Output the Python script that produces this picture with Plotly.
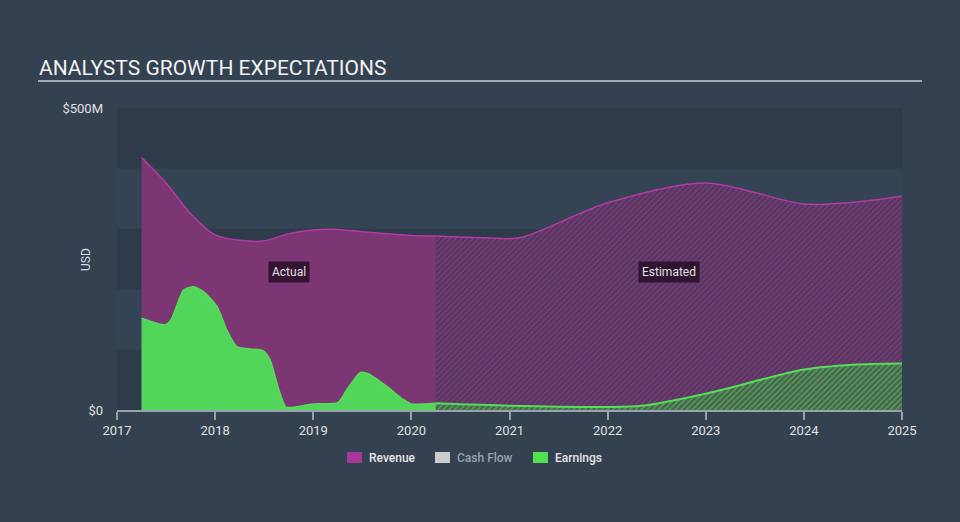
import plotly.graph_objects as go

# ---- data (USD millions, x in fractional years) ----
rev_act_x = [2017.25, 2017.5, 2017.75, 2018.0, 2018.25, 2018.5, 2018.75, 2019.0, 2019.25, 2019.5, 2019.75, 2020.0, 2020.25]
rev_act_y = [418, 376, 325, 290, 281, 280, 292, 298, 299, 295, 292, 289, 288]
rev_est_x = [2020.25, 2020.75, 2021.1, 2022.0, 2023.0, 2024.0, 2024.5, 2025.0]
rev_est_y = [288, 285, 285, 343, 376, 341, 344, 354]

earn_act_x = [2017.25, 2017.49, 2017.55, 2017.68, 2017.78, 2017.88, 2018.02, 2018.12, 2018.22, 2018.36, 2018.49,
              2018.56, 2018.65, 2018.72, 2018.78, 2019.0, 2019.25, 2019.34, 2019.48, 2019.56, 2019.75, 2019.92, 2020.0, 2020.25]
earn_act_y = [152, 141, 149, 199, 204, 196, 171, 132, 105, 101, 98,
              83, 33, 5, 4, 10, 12, 33, 62, 60, 39, 17, 10, 11]
earn_est_x = [2020.25, 2021.0, 2022.0, 2022.35, 2023.0, 2024.0, 2024.5, 2025.0]
earn_est_y = [11, 7, 5, 7, 27, 67, 75, 77]

year_ticks = [2017, 2018, 2019, 2020, 2021, 2022, 2023, 2024, 2025]
y_ticks = [0, 500]
y_tick_text = ["$0", "$500M"]

legend_names = ["Revenue", "Cash Flow", "Earnings"]
legend_colors = ["#a8379c", "#cccccc", "#52e052"]
legend_text_colors = ["#e6e6e6", "#9aa3ad", "#e6e6e6"]

# ---- geometry helpers (pixel -> paper) ----
L, R, T, B = 117, 902, 108, 410
def px(p):
    return (p - L) / (R - L)
def py(p):
    return (B - p) / (B - T)

REV_LINE = "#b43aa5"
REV_FILL = "#7b3673"
EARN_LINE = "#55dd58"
EARN_FILL = "#52d65a"

fig = go.Figure()

fig.add_trace(go.Scatter(
    x=rev_act_x, y=rev_act_y, mode="lines", fill="tozeroy",
    line=dict(color=REV_LINE, width=1.5, shape="spline", smoothing=0.8),
    fillcolor=REV_FILL, hoverinfo="skip", showlegend=False))

fig.add_trace(go.Scatter(
    x=rev_est_x, y=rev_est_y, mode="lines", fill="tozeroy",
    line=dict(color=REV_LINE, width=1.5, shape="spline", smoothing=0.8),
    fillcolor="rgba(0,0,0,0)",
    fillpattern=dict(shape="/", fgcolor="#96408c", bgcolor="#51365c", size=4, solidity=0.5),
    hoverinfo="skip", showlegend=False))

fig.add_trace(go.Scatter(
    x=earn_act_x, y=earn_act_y, mode="lines", fill="tozeroy",
    line=dict(color=EARN_LINE, width=1.5, shape="spline", smoothing=0.6),
    fillcolor=EARN_FILL, hoverinfo="skip", showlegend=False))

fig.add_trace(go.Scatter(
    x=earn_est_x, y=earn_est_y, mode="lines", fill="tozeroy",
    line=dict(color=EARN_LINE, width=2, shape="spline", smoothing=0.8),
    fillcolor="rgba(0,0,0,0)",
    fillpattern=dict(shape="/", fgcolor="#62cc62", bgcolor="#45604d", size=4, solidity=0.5),
    hoverinfo="skip", showlegend=False))

shapes = []
# horizontal bands
for y0 in (0, 200, 400):
    shapes.append(dict(type="rect", xref="paper", yref="y", x0=0, x1=1, y0=y0, y1=y0 + 100,
                       fillcolor="#2e3b4a", line=dict(width=0), layer="below"))
# title underline
shapes.append(dict(type="line", xref="paper", yref="paper", x0=px(38), x1=px(922), y0=py(81), y1=py(81),
                   line=dict(color="#a3abb5", width=2)))

annotations = [
    dict(text="ANALYSTS GROWTH EXPECTATIONS", xref="paper", yref="paper", x=px(37), y=py(68),
         xanchor="left", yanchor="middle", showarrow=False,
         font=dict(family="Roboto", size=21, color="#f2f2f2")),
    dict(text="USD", xref="paper", yref="paper", x=px(86), y=py(260), textangle=-90,
         xanchor="center", yanchor="middle", showarrow=False,
         font=dict(family="Roboto", size=12, color="#d8dce0")),
    dict(text="Actual", x=2018.75, y=228, xref="x", yref="y", showarrow=False,
         bgcolor="rgba(35,12,35,0.8)", borderpad=3,
         font=dict(family="Roboto", size=12, color="#e0e0e0")),
    dict(text="Estimated", x=2022.63, y=228, xref="x", yref="y", showarrow=False,
         bgcolor="rgba(35,12,35,0.8)", borderpad=3,
         font=dict(family="Roboto", size=12, color="#e0e0e0")),
]

# manual legend
sq_x = [347, 435, 533]
for name, col, tcol, sx in zip(legend_names, legend_colors, legend_text_colors, sq_x):
    shapes.append(dict(type="rect", xref="paper", yref="paper", x0=px(sx), x1=px(sx + 15),
                       y0=py(463), y1=py(452), fillcolor=col, line=dict(width=0)))
    annotations.append(dict(text=name, xref="paper", yref="paper", x=px(sx + 20), y=py(458),
                            xanchor="left", yanchor="middle", showarrow=False,
                            font=dict(family="Roboto", size=12, color=tcol, weight=500)))

fig.update_layout(
    width=960, height=522,
    margin=dict(l=L, r=960 - R, t=T, b=522 - B),
    paper_bgcolor="#334151",
    plot_bgcolor="#344454",
    font=dict(family="Roboto", color="#e0e0e0"),
    shapes=shapes, annotations=annotations,
    showlegend=False,
    xaxis=dict(range=[2017, 2025], tickmode="array", tickvals=year_ticks,
               ticktext=[str(v) for v in year_ticks],
               showgrid=False, zeroline=False, showline=True, linecolor="#9aa3ad", linewidth=1.5,
               ticks="outside", ticklen=8, tickcolor="#9aa3ad", tickwidth=1.5,
               tickfont=dict(family="Roboto", size=13, color="#e0e0e0")),
    yaxis=dict(range=[0, 500], tickmode="array", tickvals=y_ticks, ticktext=y_tick_text,
               showgrid=False, zeroline=False, showline=False, ticks="",
               ticklabelstandoff=13,
               tickfont=dict(family="Roboto", size=13, color="#e0e0e0")),
)

fig.write_html("out.html")
